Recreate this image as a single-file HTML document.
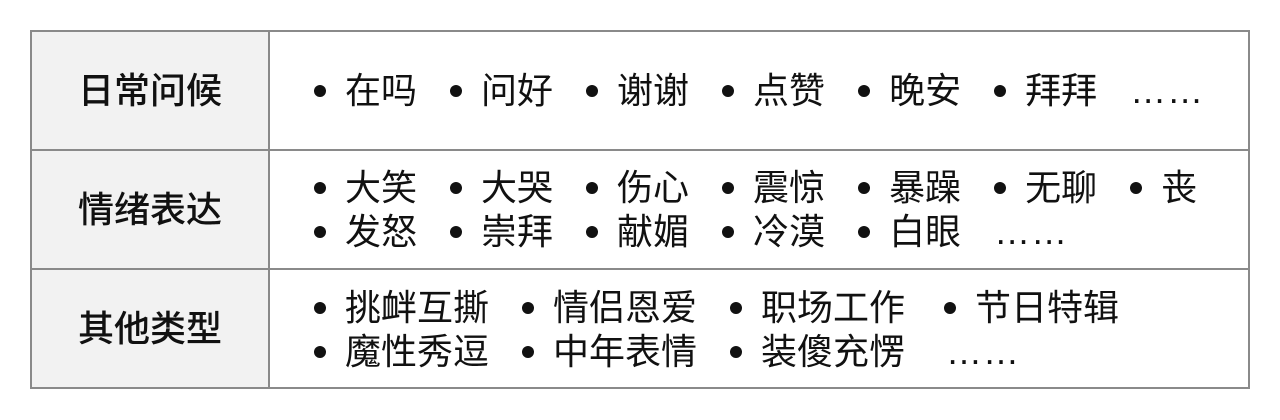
<!DOCTYPE html>
<html><head><meta charset="utf-8"><style>
body{margin:0;width:1280px;height:420px;background:#fff;position:relative;font-family:"Liberation Sans","Noto Sans CJK SC",sans-serif;color:#111;overflow:hidden}
.box{position:absolute;left:30px;top:30px;width:1216px;height:355px;border:2px solid #8a8a8a}
.lc{position:absolute;left:32px;width:236px;background:#f2f2f2}
.hl{position:absolute;left:30px;width:1220px;height:2px;background:#8a8a8a}
.vl{position:absolute;left:268px;top:30px;width:2px;height:359px;background:#8a8a8a}
.lab{position:absolute;left:32px;width:236px;text-align:center;font-size:36px;line-height:44px;font-weight:500}
.ln{position:absolute;left:314px;height:44px;display:flex;align-items:center;font-size:36px;line-height:44px;white-space:nowrap}
.it{display:flex;align-items:center;margin-right:33px}
.b{width:12px;height:12px;border-radius:50%;background:#111;margin-right:19px}
.d{font-size:36px;letter-spacing:1px}
</style></head><body>
<div class="lc" style="top:32px;height:117px"></div>
<div class="lc" style="top:151px;height:117px"></div>
<div class="lc" style="top:270px;height:117px"></div>
<div class="box"></div>
<div class="hl" style="top:149px"></div>
<div class="hl" style="top:268px"></div>
<div class="vl"></div>
<div class="lab" style="top:69px">日常问候</div>
<div class="lab" style="top:188px">情绪表达</div>
<div class="lab" style="top:307px">其他类型</div>
<div class="ln" style="top:69px"><span class="it"><span class="b"></span>在吗</span><span class="it"><span class="b"></span>问好</span><span class="it"><span class="b"></span>谢谢</span><span class="it"><span class="b"></span>点赞</span><span class="it"><span class="b"></span>晚安</span><span class="it"><span class="b"></span>拜拜</span><span class="d">……</span></div>
<div class="ln" style="top:166px"><span class="it"><span class="b"></span>大笑</span><span class="it"><span class="b"></span>大哭</span><span class="it"><span class="b"></span>伤心</span><span class="it"><span class="b"></span>震惊</span><span class="it"><span class="b"></span>暴躁</span><span class="it"><span class="b"></span>无聊</span><span class="it"><span class="b"></span>丧</span></div>
<div class="ln" style="top:210px"><span class="it"><span class="b"></span>发怒</span><span class="it"><span class="b"></span>崇拜</span><span class="it"><span class="b"></span>献媚</span><span class="it"><span class="b"></span>冷漠</span><span class="it"><span class="b"></span>白眼</span><span class="d">……</span></div>
<div class="ln" style="top:286px"><span class="it"><span class="b"></span>挑衅互撕</span><span class="it"><span class="b"></span>情侣恩爱</span><span class="it"><span class="b"></span>职场工作</span><span class="it" style="margin-left:6px"><span class="b"></span>节日特辑</span></div>
<div class="ln" style="top:330px"><span class="it"><span class="b"></span>魔性秀逗</span><span class="it"><span class="b"></span>中年表情</span><span class="it"><span class="b"></span>装傻充愣</span><span class="d" style="margin-left:8px">……</span></div>
</body></html>
